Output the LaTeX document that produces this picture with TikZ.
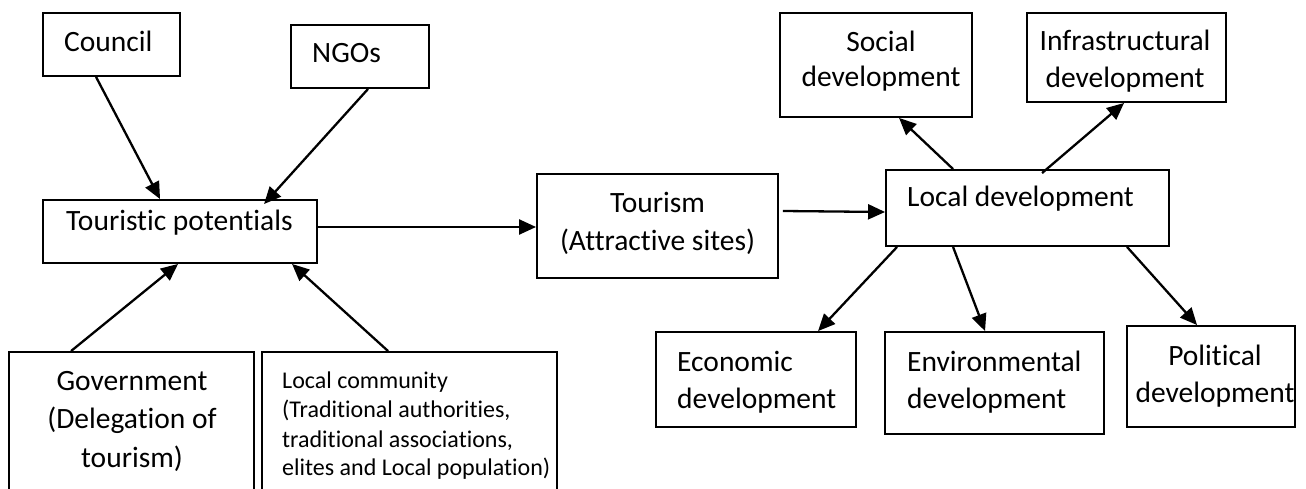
\documentclass[tikz,border=0pt]{standalone}
\usepackage{fontspec}
\setmainfont{Carlito}[Ligatures=NoCommon]
\usetikzlibrary{arrows.meta}
\begin{document}
\begin{tikzpicture}[x=1pt,y=-1pt,
  box/.style={draw=black, line width=1.9pt, inner sep=0pt, rectangle},
  big/.style={font=\fontsize{29.5}{37}\selectfont, inner sep=0pt},
  small/.style={font=\fontsize{24}{29}\selectfont, inner sep=0pt},
  arr/.style={line width=2.3pt, -{Triangle[length=17pt,width=15pt]}}]
\useasboundingbox (0,0) rectangle (1306,489);
\clip (0,0) rectangle (1306,489);
% boxes
\node[box, minimum width=137pt, minimum height=63pt] (council) at (111.5,44.5) {};
\node[box, minimum width=138pt, minimum height=63pt] (ngos) at (360,56.5) {};
\node[box, minimum width=274pt, minimum height=63pt] (tp) at (180,231.5) {};
\node[box, minimum width=245pt, minimum height=168pt] (gov) at (131.5,436) {};
\node[box, minimum width=295pt, minimum height=168pt] (lc) at (409.5,436) {};
\node[box, minimum width=241pt, minimum height=104pt] (tour) at (657.5,226) {};
\node[box, minimum width=283pt, minimum height=76pt] (ld) at (1027.5,208) {};
\node[box, minimum width=192pt, minimum height=104pt] (social) at (876,65) {};
\node[box, minimum width=199pt, minimum height=89pt] (infra) at (1126.5,57.5) {};
\node[box, minimum width=200pt, minimum height=95pt] (econ) at (756,379.5) {};
\node[box, minimum width=219pt, minimum height=102pt] (env) at (994.5,383) {};
\node[box, minimum width=168pt, minimum height=101pt] (pol) at (1211,376.5) {};
% texts
\node[big, anchor=base west] (councilT) at (64,52) {Council};
\node[big, anchor=base west] (ngosT) at (312,63) {NGOs};
\node[big, anchor=base west] (tpT) at (66,230) {Touristic potentials};
\node[big, anchor=base] (govT1) at (132,390) {Government};
\node[big, anchor=base] (govT2) at (132,428) {(Delegation of};
\node[big, anchor=base] (govT3) at (132,467) {tourism)};
\node[small, anchor=base west] (lcT1) at (282,388) {Local community};
\node[small, anchor=base west] (lcT2) at (282,417) {(Traditional authorities,};
\node[small, anchor=base west] (lcT3) at (282,447) {traditional associations,};
\node[small, anchor=base west] (lcT4) at (282,475) {elites and Local population)};
\node[big, anchor=base] (tourT1) at (657.5,213) {Tourism};
\node[big, anchor=base] (tourT2) at (657.5,250) {(Attractive sites)};
\node[big, anchor=base west] (ldT) at (907,207) {Local development};
\node[big, anchor=base] (socialT1) at (881,52) {Social};
\node[big, anchor=base] (socialT2) at (881,87) {development};
\node[big, anchor=base] (infraT1) at (1125,51) {Infrastructural};
\node[big, anchor=base] (infraT2) at (1125,88) {development};
\node[big, anchor=base west] (econT1) at (677,371) {Economic};
\node[big, anchor=base west] (econT2) at (677,408) {development};
\node[big, anchor=base west] (envT1) at (907,371) {Environmental};
\node[big, anchor=base west] (envT2) at (907,408) {development};
\node[big, anchor=base] (polT1) at (1215,365) {Political};
\node[big, anchor=base] (polT2) at (1215,402) {development};
% arrows
\draw[arr] ([xshift=54pt]council.south west) -- ([xshift=118pt]tp.north west);
\draw[arr] ([xshift=78pt]ngos.south west) -- ([xshift=222pt,yshift=-5pt]tp.north west);
\draw[arr] ([xshift=63pt]gov.north west) -- ([xshift=136pt]tp.south west);
\draw[arr] ([xshift=127pt]lc.north west) -- ([xshift=250pt]tp.south west);
\draw[arr] ([yshift=4.5pt]tp.east) -- ([yshift=-1pt]tour.west);
\draw[arr] ([xshift=4pt,yshift=15pt]tour.east) -- ([yshift=-4pt]ld.west);
\draw[arr] ([xshift=68pt]ld.north west) -- ([xshift=120pt]social.south west);
\draw[arr] ([xshift=157pt,yshift=-4pt]ld.north west) -- ([xshift=98pt]infra.south west);
\draw[arr] ([xshift=12pt]ld.south west) -- ([xshift=163pt]econ.north west);
\draw[arr] ([xshift=68pt]ld.south west) -- ([xshift=101pt]env.north west);
\draw[arr] ([xshift=242pt]ld.south west) -- ([xshift=71pt]pol.north west);
\end{tikzpicture}
\end{document}
